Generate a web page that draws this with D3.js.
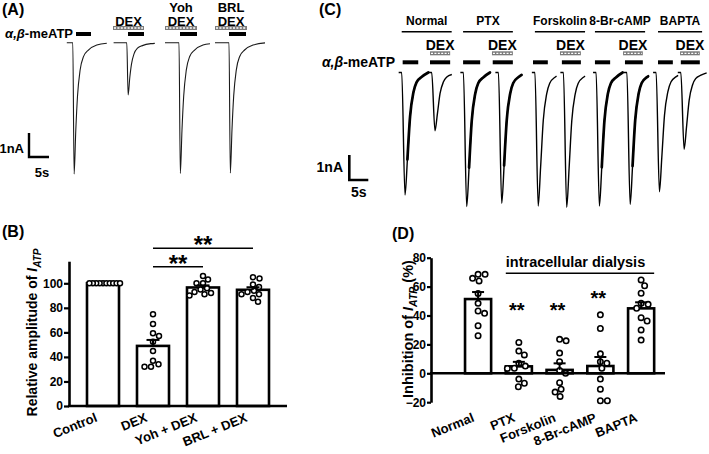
<!DOCTYPE html>
<html><head><meta charset="utf-8">
<script src="https://cdn.jsdelivr.net/npm/d3@7"></script>
<style>
body{margin:0;background:#fff;}
svg{display:block;font-family:"Liberation Sans",Arial,sans-serif;font-weight:bold;}
</style></head><body>
<svg id="fig" width="709" height="454"></svg>
<script>
// ================= DATA =================
// Panel A: current traces (time in s, current in nA)
const aOnset = [3.2, 16.7, 29.75, 42.25];
const aPeak  = [-5.47, -2.18, -5.45, -5.43];
const aLead  = [1.5, 3.3, 3.5, 3.5];
const aEnd   = [8.5, 7.0, 7.75, 9.0];
const aShapeT = [0, 0.33, 0.75, 1.17, 1.83, 2.67, 3.9, 6.0, 9.3];
const aShapeF = [0, 1, 0.665, 0.41, 0.208, 0.106, 0.056, 0.018, 0];
const aAtpOn = [[4, 7.75], [17, 21], [30, 34.25], [42.25, 46.5]];
const aDexOn = [null, [13.25, 21], [26.25, 34.25], [38.75, 46.75]];
const aDrugLabels = [[], ["DEX"], ["Yoh", "DEX"], ["BRL", "DEX"]];

// Panel C: current traces
const cGroups = ["Normal", "PTX", "Forskolin", "8-Br-cAMP", "BAPTA"];
const cGroupSpan = [[0.45, 13.6], [16.6, 29.7], [35.5, 48.7], [51.3, 64.5], [67.9, 79.5]];
const cOnset = [0.45, 8.34, 16.68, 25.9, 35.5, 43.0, 51.6, 59.7, 67.4, 73.9];
const cPeak  = [-4.9, -2.33, -5.36, -5.23, -5.34, -5.39, -5.34, -5.27, -4.77, -3.07];
const cEnd   = [7, 5.3, 7, 6.1, 5.7, 5.7, 7.1, 5.6, 5.8, 6.8];
const cNoisy = [1, 0, 1, 1, 0, 0, 1, 1, 0, 0];
const cShapeT = [0, 0.87, 1.5, 2.2, 3.1, 3.9, 5.3, 7];
const cShapeF = [0, 1, 0.71, 0.36, 0.16, 0.08, 0.035, 0];
const cAtpOn = [[0.7, 4.8], [7.9, 13.2], [16.6, 21.1], [24.4, 29.7], [35, 38.9], [42.6, 47.6], [51.3, 55.3], [59.2, 63.9], [67.9, 71.8], [73.9, 78.9]];
const cDexOn = [[7.9, 13.2], [24.2, 29.7], [42.1, 47.6], [58.7, 63.9], [73.7, 78.9]];

// Panel B: relative amplitude of I_ATP (%)
const bCats = ["Control", "DEX", "Yoh + DEX", "BRL + DEX"];
const bControl = [100, 100, 100, 100, 100, 100, 100, 100, 100, 100];
const bDex = [74.7, 66.8, 59.2, 57, 52.4, 44.8, 36.9, 34, 32, 32];
const bYoh = [106, 103, 100, 100, 96, 95, 93, 92, 91, 90];
const bBrl = [105, 104, 99, 97, 94, 93, 91, 91, 88, 85];
const bTicks = [0, 20, 40, 60, 80, 100];
const bSigPairs = [["DEX", "Yoh + DEX", 113.5], ["DEX", "BRL + DEX", 128.5]];

// Panel D: inhibition of I_ATP (%)
const dCats = ["Normal", "PTX", "Forskolin", "8-Br-cAMP", "BAPTA"];
const dNormal = [68.5, 68.5, 65.7, 63.9, 55.3, 48.4, 43.1, 41.5, 32.9, 26];
const dPtx = [21.4, 15.4, 12.7, 6.9, 5, 3.5, 3.4, -4, -6.9, -9.3];
const dFsk = [23.5, 22.5, 14, 8, 2, 0, -6.5, -11, -13, -16];
const dCamp = [40.5, 31, 13.5, 8, 7, 3.5, -4, -11, -19, -19];
const dBapta = [64.6, 60.6, 55.4, 48.4, 47.7, 45, 38.5, 36.2, 30, 23];
const dTicks = [-20, 0, 20, 40, 60, 80];
const dStarAt = [null, 46.5, 46.5, 55, null];
const dBracket = ["PTX", "BAPTA", 69.2, "intracellular dialysis"];

// ================= HELPERS =================
const svg = d3.select("#fig");

function tracePts(on, pk, lead, end, shT, shF) {
  const pts = [[on - lead, 0]];
  for (let i = 0; i < shT.length; i++) {
    if (shT[i] <= end) pts.push([on + shT[i], pk * shF[i]]);
    else {
      const f = shF[i - 1] + (shF[i] - shF[i - 1]) * (end - shT[i - 1]) / (shT[i] - shT[i - 1]);
      pts.push([on + end, pk * f]);
      break;
    }
  }
  return pts;
}

function dashedBar(g, x1, x2, y) {
  g.append("rect").attr("x", x1).attr("y", y - 2).attr("width", x2 - x1).attr("height", 4)
    .attr("fill", "#7a7a7a");
  g.append("line").attr("x1", x1 + 1).attr("x2", x2 - 1).attr("y1", y).attr("y2", y)
    .attr("stroke", "#fff").attr("stroke-width", 1.3).attr("stroke-dasharray", "2,1.4");
}

function swarm(vals, y, r, maxOff) {
  const d = 2 * r + 1.2;
  const placed = [];
  const order = vals.map((v, i) => ({ v, i })).sort((a, b) => b.v - a.v);
  order.forEach(o => {
    const py = y(o.v);
    let chosen = 0;
    for (let k = 0; k < 200; k++) {
      const off = k === 0 ? 0 : (k % 2 ? 1 : -1) * Math.ceil(k / 2) * 0.5;
      const ok = placed.every(p => Math.hypot(p.x - off, p.y - py) >= d);
      if (ok) { chosen = off; break; }
    }
    placed.push({ x: chosen, y: py, v: o.v });
  });
  const m = d3.max(placed, p => Math.abs(p.x));
  if (m > maxOff) placed.forEach(p => p.x *= maxOff / m);
  return placed;
}

function barPanel(g, cats, groups, x, y, opt) {
  cats.forEach((c, i) => {
    const vals = groups[i];
    const mean = d3.mean(vals);
    const sem = d3.deviation(vals) / Math.sqrt(vals.length);
    const cx = x(c) + x.bandwidth() / 2;
    g.append("rect").attr("x", x(c)).attr("y", Math.min(y(mean), y(0)))
      .attr("width", x.bandwidth()).attr("height", Math.abs(y(0) - y(mean)))
      .attr("fill", "#fff").attr("stroke", "#000").attr("stroke-width", 2.6);
    swarm(vals, y, opt.r, x.bandwidth() / 2 + 1).forEach(p => {
      g.append("circle").attr("cx", cx + p.x).attr("cy", p.y).attr("r", opt.r)
        .attr("fill", "#fff").attr("stroke", "#000").attr("stroke-width", opt.sw);
    });
    if (sem > 0) {
      const top = mean >= 0 ? mean + sem : mean - sem;
      g.append("line").attr("x1", cx).attr("x2", cx).attr("y1", y(mean)).attr("y2", y(top))
        .attr("stroke", "#000").attr("stroke-width", 2);
      g.append("line").attr("x1", cx - opt.cap).attr("x2", cx + opt.cap).attr("y1", y(top)).attr("y2", y(top))
        .attr("stroke", "#000").attr("stroke-width", 2);
    }
  });
}

function styleAxis(ax, fs) {
  ax.attr("font-family", null).attr("font-size", null);
  ax.select(".domain").attr("stroke-width", 2.6);
  ax.selectAll(".tick line").attr("stroke-width", 2.2);
  ax.selectAll(".tick text").attr("font-size", fs).attr("font-weight", "bold").attr("fill", "#000");
}

// ================= PANEL A =================
const gA = svg.append("g");
const xA = d3.scaleLinear().domain([0, 60]).range([60, 300]);
const yA = d3.scaleLinear().domain([0, -6]).range([42.7, 186.7]);
gA.append("text").attr("x", 2).attr("y", 15).attr("font-size", 16).text("(A)");
const atpA = gA.append("text").attr("x", 73).attr("y", 38).attr("font-size", 13).attr("text-anchor", "end");
atpA.append("tspan").attr("font-style", "italic").text("α,β");
atpA.append("tspan").text("-meATP");
const lineA = d3.line().x(d => xA(d[0])).y(d => yA(d[1])).curve(d3.curveMonotoneX);
aOnset.forEach((on, i) => {
  gA.append("path").attr("d", lineA(tracePts(on, aPeak[i], aLead[i], aEnd[i], aShapeT, aShapeF)))
    .attr("fill", "none").attr("stroke", "#1a1a1a").attr("stroke-width", 1.1);
  gA.append("line").attr("x1", xA(aAtpOn[i][0])).attr("x2", xA(aAtpOn[i][1]))
    .attr("y1", 34).attr("y2", 34).attr("stroke", "#000").attr("stroke-width", 4);
  if (aDexOn[i]) {
    dashedBar(gA, xA(aDexOn[i][0]), xA(aDexOn[i][1]), 28);
    const cx = (xA(aDexOn[i][0]) + xA(aDexOn[i][1])) / 2;
    const labs = aDrugLabels[i];
    labs.forEach((s, j) => {
      gA.append("text").attr("x", cx).attr("y", 26.3 - (labs.length - 1 - j) * 14.6)
        .attr("font-size", 13).attr("text-anchor", "middle").text(s);
    });
  }
});
// scale bar A
{
  const x0 = 29, yb = 157;
  const h = yA(-1) - yA(0), w = xA(5) - xA(0);
  gA.append("path").attr("d", `M${x0},${yb - h}V${yb}H${x0 + w}`).attr("fill", "none")
    .attr("stroke", "#000").attr("stroke-width", 2.4);
  gA.append("text").attr("x", 24).attr("y", 153).attr("font-size", 13).attr("text-anchor", "end").text("1nA");
  gA.append("text").attr("x", x0 + w / 2 + 3).attr("y", 176.5).attr("font-size", 13).attr("text-anchor", "middle").text("5s");
}

// ================= PANEL C =================
const gC = svg.append("g");
const xC = d3.scaleLinear().domain([0, 80]).range([400, 704]);
const yC = d3.scaleLinear().domain([0, -6]).range([72.5, 222.5]);
gC.append("text").attr("x", 319).attr("y", 15).attr("font-size", 16).text("(C)");
cGroups.forEach((gname, i) => {
  const [t0, t1] = cGroupSpan[i];
  gC.append("text").attr("x", (xC(t0) + xC(t1)) / 2).attr("y", 25).attr("font-size", 12)
    .attr("text-anchor", "middle").text(gname);
  gC.append("line").attr("x1", xC(t0)).attr("x2", xC(t1)).attr("y1", 31.7).attr("y2", 31.7)
    .attr("stroke", "#000").attr("stroke-width", 1.4);
  const [d0, d1] = cDexOn[i];
  dashedBar(gC, xC(d0), xC(d1), 53.3);
  gC.append("text").attr("x", (xC(d0) + xC(d1)) / 2).attr("y", 50).attr("font-size", 14)
    .attr("text-anchor", "middle").text("DEX");
});
const atpC = gC.append("text").attr("x", 395).attr("y", 67).attr("font-size", 14).attr("text-anchor", "end");
atpC.append("tspan").attr("font-style", "italic").text("α,β");
atpC.append("tspan").text("-meATP");
cAtpOn.forEach(s => {
  gC.append("line").attr("x1", xC(s[0])).attr("x2", xC(s[1])).attr("y1", 62.3).attr("y2", 62.3)
    .attr("stroke", "#000").attr("stroke-width", 4);
});
const lineC = d3.line().x(d => xC(d[0])).y(d => yC(d[1])).curve(d3.curveMonotoneX);
cOnset.forEach((on, i) => {
  const pts = tracePts(on, cPeak[i], 0.8, cEnd[i], cShapeT, cShapeF);
  gC.append("path").attr("d", lineC(pts))
    .attr("fill", "none").attr("stroke", "#000").attr("stroke-width", 1.4)
    .attr("stroke-linejoin", "round");
  if (cNoisy[i]) {
    const tail = pts.filter(p => p[0] >= on + 1.5);
    gC.append("path").attr("d", lineC(tail))
      .attr("fill", "none").attr("stroke", "#000").attr("stroke-width", 2.7)
      .attr("stroke-linecap", "round");
  }
});
{
  const x0 = 349.3, yb = 180;
  const h = yC(-1) - yC(0), w = xC(5) - xC(0);
  gC.append("path").attr("d", `M${x0},${yb - h}V${yb}H${x0 + w}`).attr("fill", "none")
    .attr("stroke", "#000").attr("stroke-width", 2.6);
  gC.append("text").attr("x", 343).attr("y", 171.5).attr("font-size", 14).attr("text-anchor", "end").text("1nA");
  gC.append("text").attr("x", 358.7).attr("y", 196.5).attr("font-size", 14).attr("text-anchor", "middle").text("5s");
}

// ================= PANEL B =================
const gB = svg.append("g");
const xB = d3.scaleBand().domain(bCats).range([78, 278]).paddingInner(0.36).paddingOuter(0.18);
const yB = d3.scaleLinear().domain([0, 118]).range([406, 406 - 118 * 1.227]);
gB.append("text").attr("x", 2).attr("y", 237).attr("font-size", 16).text("(B)");
barPanel(gB, bCats, [bControl, bDex, bYoh, bBrl], xB, yB, { r: 2.5, sw: 1.5, cap: 6.5 });
const axB = gB.append("g").attr("transform", "translate(69,0)")
  .call(d3.axisLeft(yB).tickValues(bTicks).tickSize(5).tickSizeOuter(0).tickPadding(1));
styleAxis(axB, 12);
gB.append("line").attr("x1", 68).attr("x2", 287).attr("y1", yB(0)).attr("y2", yB(0))
  .attr("stroke", "#000").attr("stroke-width", 2.6);
bCats.forEach(c => {
  const cx = xB(c) + xB.bandwidth() / 2 - 5;
  gB.append("text").attr("transform", `translate(${cx},421) rotate(-22)`)
    .attr("font-size", 13).attr("text-anchor", "end").text(c);
});
bSigPairs.forEach(([a, b, v]) => {
  const x1 = xB(a) + xB.bandwidth() / 2, x2 = xB(b) + xB.bandwidth() / 2;
  gB.append("line").attr("x1", x1).attr("x2", x2).attr("y1", yB(v)).attr("y2", yB(v))
    .attr("stroke", "#000").attr("stroke-width", 1.5);
  gB.append("text").attr("x", (x1 + x2) / 2).attr("y", yB(v) + 5).attr("font-size", 24)
    .attr("text-anchor", "middle").text("**");
});
const ylabB = gB.append("text").attr("transform", "translate(37,332.5) rotate(-90)")
  .attr("font-size", 14).attr("text-anchor", "middle");
ylabB.append("tspan").text("Relative amplitude of ");
ylabB.append("tspan").attr("font-style", "italic").text("I");
ylabB.append("tspan").attr("font-style", "italic").attr("font-size", 10).attr("dy", 4).text("ATP");

// ================= PANEL D =================
const gD = svg.append("g");
const xD = d3.scaleBand().domain(dCats).range([457.7, 661.5]).paddingInner(0.36).paddingOuter(0.18);
const yD = d3.scaleLinear().domain([-20, 80]).range([402.2, 257.7]);
gD.append("text").attr("x", 392).attr("y", 239).attr("font-size", 16).text("(D)");
barPanel(gD, dCats, [dNormal, dPtx, dFsk, dCamp, dBapta], xD, yD, { r: 2.7, sw: 1.6, cap: 6 });
const axD = gD.append("g").attr("transform", "translate(431,0)")
  .call(d3.axisLeft(yD).tickValues(dTicks).tickSize(4).tickSizeOuter(0).tickPadding(1)
    .tickFormat(d3.format("d")));
styleAxis(axD, 12);
gD.append("line").attr("x1", 430).attr("x2", 665).attr("y1", yD(0)).attr("y2", yD(0))
  .attr("stroke", "#000").attr("stroke-width", 2.6);
dCats.forEach(c => {
  const cx = xD(c) + xD.bandwidth() / 2 - 3;
  gD.append("text").attr("transform", `translate(${cx},421) rotate(-22)`)
    .attr("font-size", 13).attr("text-anchor", "end").text(c);
});
dCats.forEach((c, i) => {
  if (dStarAt[i] == null) return;
  gD.append("text").attr("x", xD(c) + xD.bandwidth() / 2 - 2).attr("y", yD(dStarAt[i]) + 11)
    .attr("font-size", 20).attr("text-anchor", "middle").text("**");
});
{
  const [a, b, v, lab] = dBracket;
  const x1 = xD(a), x2 = xD(b) + xD.bandwidth();
  gD.append("line").attr("x1", x1).attr("x2", x2).attr("y1", yD(v)).attr("y2", yD(v))
    .attr("stroke", "#000").attr("stroke-width", 1.5);
  gD.append("text").attr("x", x1).attr("y", yD(v) - 6).attr("font-size", 14.5).text(lab);
}
const ylabD = gD.append("text").attr("transform", "translate(413,329) rotate(-90)")
  .attr("font-size", 14.5).attr("text-anchor", "middle");
ylabD.append("tspan").text("Inhibition of ");
ylabD.append("tspan").attr("font-style", "italic").text("I");
ylabD.append("tspan").attr("font-style", "italic").attr("font-size", 10.5).attr("dy", 4).text("ATP");
ylabD.append("tspan").attr("dy", -4).text(" (%)");
</script>
</body></html>
